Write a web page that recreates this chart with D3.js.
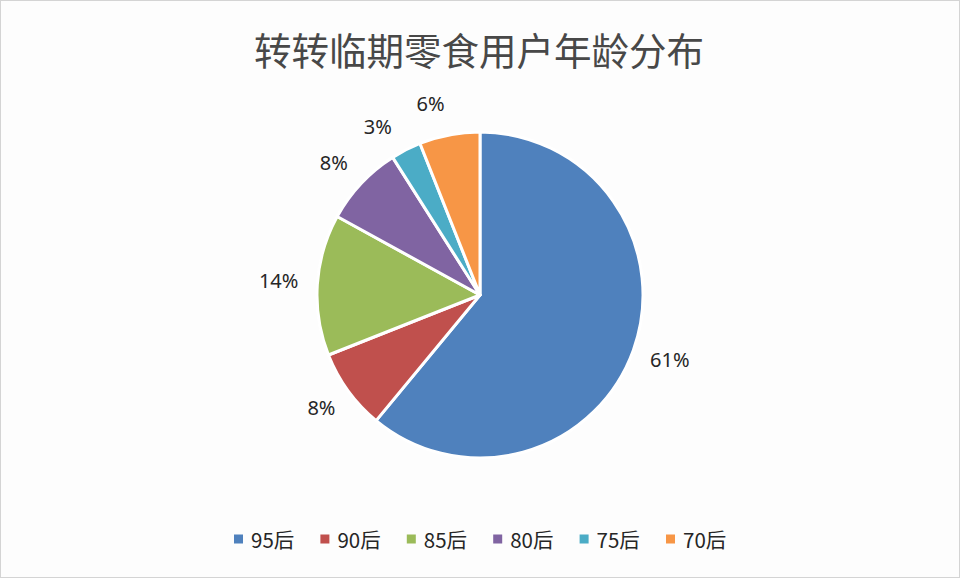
<!DOCTYPE html>
<html lang="zh">
<head>
    <meta charset="UTF-8">
    <title>转转临期零食用户年龄分布</title>
    <script src="https://cdn.jsdelivr.net/npm/d3@7/dist/d3.min.js"></script>
    <style>
        html, body { margin: 0; padding: 0; background: #fdfdfd; }
        svg { display: block; }
    </style>
</head>
<body>
<div id="chart"></div>
<script>
    // 数据
    var categories = ["95后", "90后", "85后", "80后", "75后", "70后"];
    var values = [61, 8, 14, 8, 3, 6];
    var colors = ["#4f81bd", "#c0504d", "#9bbb59", "#8064a2", "#4bacc6", "#f79646"];
    var title = "转转临期零食用户年龄分布";

    var width = 960, height = 578;
    var cx = 480, cy = 295, radius = 163;

    var svg = d3.select("#chart").append("svg")
        .attr("width", width).attr("height", height);

    svg.append("rect")
        .attr("x", 0.5).attr("y", 0.5)
        .attr("width", width - 1).attr("height", height - 1)
        .attr("fill", "#fdfdfd").attr("stroke", "#d4d4d4");

    // 标题
    svg.append("text")
        .attr("x", 479).attr("y", 48)
        .attr("text-anchor", "middle")
        .attr("dominant-baseline", "central")
        .attr("font-family", "'Noto Sans CJK SC', sans-serif")
        .attr("font-size", 37.5)
        .attr("fill", "#484848")
        .text(title);

    var data = categories.map(function (c, i) {
        return { name: c, value: values[i], color: colors[i] };
    });

    var pie = d3.pie().sort(null).value(function (d) { return d.value; });
    var arcs = pie(data);
    var arc = d3.arc().innerRadius(0).outerRadius(radius);

    var g = svg.append("g").attr("transform", "translate(" + cx + "," + cy + ")");

    g.selectAll("path").data(arcs).enter().append("path")
        .attr("d", arc)
        .attr("fill", function (d) { return d.data.color; })
        .attr("stroke", "#ffffff")
        .attr("stroke-width", 3)
        .attr("stroke-linejoin", "round");

    // 标签角度：避免小扇区标签重叠（从顶部往回推）
    var minSep = 16.8 * Math.PI / 180;
    var maxAngle = 345.4 * Math.PI / 180;
    var labelAngles = arcs.map(function (d) { return (d.startAngle + d.endAngle) / 2; });
    var limit = maxAngle;
    for (var i = arcs.length - 1; i >= 0; i--) {
        if (labelAngles[i] < Math.PI) break;
        labelAngles[i] = Math.min(labelAngles[i], limit);
        limit = labelAngles[i] - minSep;
    }

    var labelR = 182;
    var labels = g.selectAll("text.pct").data(arcs).enter().append("text")
        .attr("class", "pct")
        .attr("text-anchor", "middle")
        .attr("dominant-baseline", "central")
        .attr("font-family", "'Noto Sans', 'Open Sans', sans-serif")
        .attr("font-size", 20)
        .attr("fill", "#262626")
        .text(function (d) { return d.data.value + "%"; });

    labels.each(function (d, i) {
        var bb = this.getBBox();
        var a = labelAngles[i];
        var s = Math.sin(a), c = -Math.cos(a);
        d3.select(this)
            .attr("x", s * (labelR + bb.width / 2))
            .attr("y", c * (labelR + bb.height / 2) - 2);
    });

    // 图例
    var legendStep = 86.4, legendX = 234, legendY = 539;
    var legend = svg.selectAll("g.legend").data(data).enter().append("g")
        .attr("class", "legend")
        .attr("transform", function (d, i) {
            return "translate(" + (legendX + i * legendStep) + "," + legendY + ")";
        });
    legend.append("rect")
        .attr("x", 0).attr("y", -4.5)
        .attr("width", 9).attr("height", 9)
        .attr("fill", function (d) { return d.color; });
    legend.append("text")
        .attr("x", 17).attr("y", 0)
        .attr("dominant-baseline", "central")
        .attr("font-family", "'Noto Sans CJK SC', sans-serif")
        .attr("font-size", 20.5)
        .attr("fill", "#262626")
        .text(function (d) { return d.name; });
</script>
</body>
</html>
